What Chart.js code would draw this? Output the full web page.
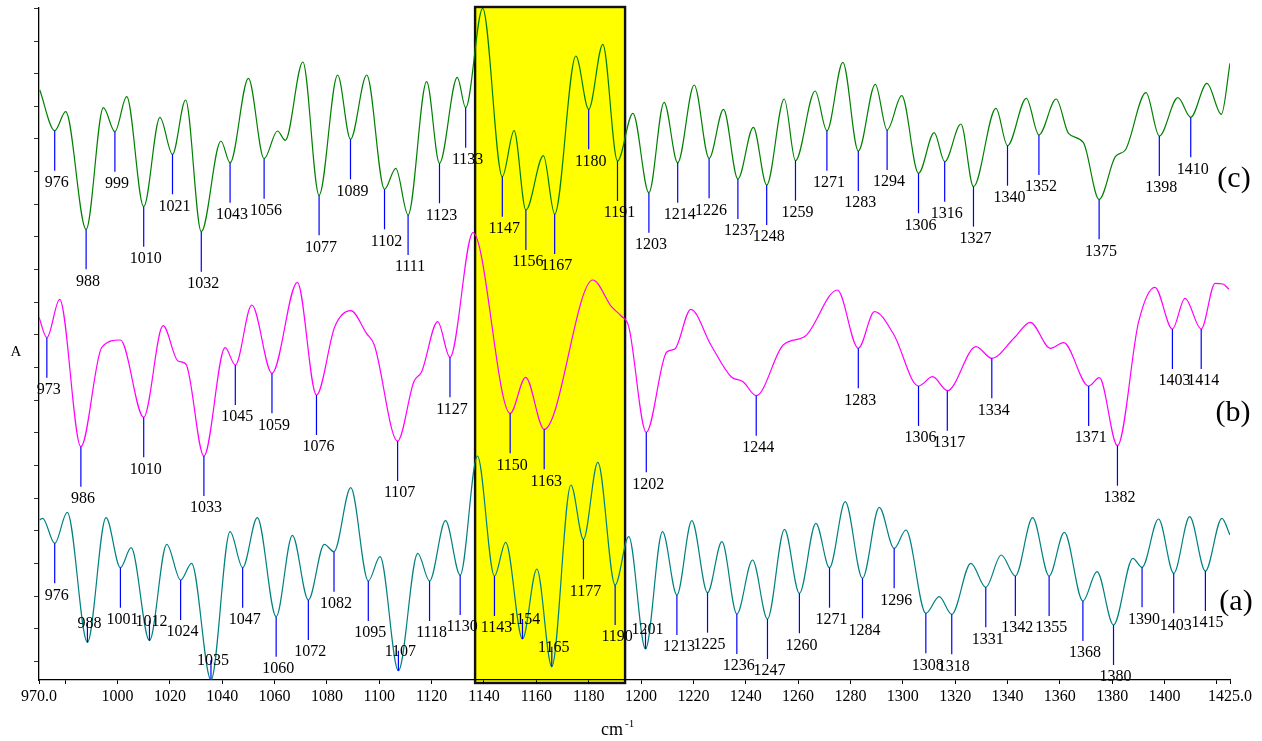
<!DOCTYPE html>
<html>
<head>
<meta charset="utf-8">
<title>IR spectra (a) (b) (c)</title>
<script src="https://cdn.jsdelivr.net/npm/chart.js@4/dist/chart.umd.min.js"></script>
<style>
  html, body { margin: 0; padding: 0; background: #fff; }
  #wrap { width: 1262px; height: 741px; position: relative; }
</style>
</head>
<body>
<div id="wrap"><canvas id="spec"></canvas></div>
<script>
// ============== 数据 (x: cm-1, y: A, arbitrary units) ==============
const xTicks = [970, 980, 1000, 1020, 1040, 1060, 1080, 1100, 1120, 1140, 1160, 1180, 1200,
  1220, 1240, 1260, 1280, 1300, 1320, 1340, 1360, 1380, 1400, 1420, 1425];
const xTickLabels = ['970.0', '', '1000', '1020', '1040', '1060', '1080', '1100', '1120', '1140', '1160', '1180', '1200',
  '1220', '1240', '1260', '1280', '1300', '1320', '1340', '1360', '1380', '1400', '', '1425.0'];
const yTicks = [18.7, 51.3, 84, 116.6, 149.3, 181.9, 214.6, 247.2, 279.9, 312.5, 345.2,
  377.8, 410.5, 443.1, 475.8, 508.4, 541.1, 573.7, 606.4, 639, 671.7];

const highlightRange = [1136.6, 1193.9];

// (c) green
const cWave = [970.3, 976, 980.2, 988, 994.6, 999, 1003.5, 1010, 1016.2, 1021, 1026, 1032, 1039.5, 1043, 1050, 1056,
  1061.1, 1064.1, 1070.8, 1077, 1084.1, 1089, 1095.2, 1102, 1106.3, 1111, 1118.1, 1123, 1129.8, 1133, 1139.5, 1147,
  1151.5, 1156, 1162.7, 1167, 1175.1, 1180, 1185.4, 1191, 1196.9, 1203, 1208.8, 1214, 1220.3, 1226, 1231.5, 1237,
  1242.9, 1248, 1254.7, 1259, 1266.5, 1271, 1277.1, 1283, 1289.5, 1294, 1299.6, 1306, 1312, 1316, 1322.2, 1327,
  1335.6, 1340, 1347.2, 1352, 1358.6, 1363.3, 1369, 1375, 1381.2, 1385, 1392.9, 1398, 1405.1, 1410, 1416.2, 1421.7, 1425];
const cAbs = [590, 549.3, 568.3, 450.7, 572.3, 548.3, 583.3, 473.3, 562.7, 525.7, 580, 448.3, 539, 517.3, 601.7, 521.3,
  549, 539.7, 618, 484.7, 605, 540.7, 605, 490.7, 511.7, 465, 598.3, 516.7, 602.7, 572.3, 671.7, 503.3,
  549.3, 470, 524.3, 466, 624, 570.7, 635.7, 519, 566.7, 487.3, 577.7, 517.3, 595, 521.7, 570.7, 501,
  552.7, 495, 581, 519.3, 589, 549.3, 617.7, 529, 595.7, 550, 584.3, 506.7, 547.3, 518.3, 556, 493.3,
  571.7, 534.3, 581.7, 545, 581, 546.7, 537.3, 480.7, 523.3, 530, 587.3, 544, 582.3, 562.7, 596.7, 565.7, 616.7];
const cPeaks = [976, 988, 999, 1010, 1021, 1032, 1043, 1056, 1077, 1089, 1102, 1111, 1123, 1133, 1147, 1156, 1167,
  1180, 1191, 1203, 1214, 1226, 1237, 1248, 1259, 1271, 1283, 1294, 1306, 1316, 1327, 1340, 1352, 1375, 1398, 1410];

// (b) magenta
const bWave = [970, 973, 977.9, 986, 994, 1001.1, 1010, 1017.4, 1023.1, 1026.1, 1033, 1041.1, 1045, 1051.3, 1059,
  1068.7, 1076, 1083, 1089.1, 1095.1, 1098.1, 1107, 1113.2, 1116.2, 1122.3, 1127, 1135.8, 1150, 1155.9, 1163,
  1181.6, 1188.7, 1192.4, 1195.3, 1202, 1209.8, 1212.9, 1219, 1226.7, 1234.4, 1239, 1244, 1254.3, 1262.8, 1275,
  1283, 1289.2, 1296.5, 1306, 1311.4, 1317, 1328, 1334, 1342.6, 1348.7, 1356.4, 1361.4, 1371, 1375.1, 1382,
  1390.1, 1396.3, 1403, 1407.8, 1414, 1419.3, 1422.3, 1424.6];
const bAbs = [362.7, 342.3, 380.7, 233.3, 332.7, 340, 262.7, 354.3, 319, 316, 224, 332.3, 315, 375, 306.7,
  397.7, 285, 353.3, 369.3, 346.7, 335, 239, 298.3, 308.3, 358.3, 322.7, 447.3, 266.7, 302.7, 250.7,
  400, 373.3, 364, 353.3, 247.7, 328, 331, 370.7, 335, 303.3, 298.3, 284.3, 335, 344, 390,
  331.7, 368.3, 345.7, 294, 303.3, 289.3, 333.3, 321.7, 342.3, 357.7, 331.7, 337.3, 294, 302.3, 234.3,
  358.3, 392.7, 351, 381.7, 351, 396.7, 396, 390.7];
const bPeaks = [973, 986, 1010, 1033, 1045, 1059, 1076, 1107, 1127, 1150, 1163, 1202, 1244, 1283, 1306, 1317,
  1334, 1371, 1382, 1403, 1414];

// (a) teal
const aWave = [970.2, 971.4, 976, 980.8, 988.5, 995.6, 1001.1, 1005.2, 1012.2, 1018.8, 1024.1, 1028.3, 1035.7,
  1043, 1047.8, 1053.4, 1060.6, 1066.8, 1072.9, 1079, 1082.7, 1089.1, 1095.8, 1100.3, 1107.3, 1114.7, 1119.2,
  1125.3, 1130.9, 1137.5, 1144, 1148.3, 1154.7, 1160.2, 1165.9, 1173.2, 1178, 1183.5, 1190.1, 1195.3, 1201.7,
  1208.2, 1213.7, 1219.4, 1225.4, 1230.9, 1236.6, 1242.6, 1248.3, 1254.8, 1260.5, 1266.8, 1272, 1278, 1284.6,
  1291, 1296.7, 1301.2, 1308.8, 1313.9, 1318.7, 1326, 1331.7, 1337.6, 1343, 1349.6, 1355.9, 1361.7, 1368.8,
  1374.2, 1380.5, 1387.9, 1391.4, 1397.7, 1403.5, 1409.6, 1415.6, 1421.9, 1425];
const aAbs = [160, 161.7, 136.7, 167.7, 37.7, 162.3, 112.3, 132.3, 39.3, 135.7, 100, 116.7, 0,
  148.3, 112.3, 162.3, 63.3, 144.7, 80, 135.7, 128.3, 192.3, 99, 123.3, 9.3, 126.7, 99,
  159.3, 105, 224, 104, 137.7, 41, 111, 13.3, 195, 140.7, 217.7, 95, 143.3, 31,
  148.3, 85, 159.3, 87.3, 138.3, 66, 120, 61, 150.7, 86.7, 156.7, 112.3, 178.3, 101.7,
  172.7, 131.7, 150, 66.7, 83.3, 65.7, 116.7, 92.7, 125, 104, 162.3, 104, 147.7, 79,
  108.3, 55, 121.7, 112.7, 161, 106.7, 163.3, 109, 161.7, 145];
const aPeaks = [976, 988, 1001, 1012, 1024, 1035, 1047, 1060, 1072, 1082, 1095, 1107, 1118, 1130, 1143, 1154, 1165,
  1177, 1190, 1201, 1213, 1225, 1236, 1247, 1260, 1271, 1284, 1296, 1308, 1318, 1331, 1342, 1355, 1368, 1380,
  1390, 1403, 1415];

const series = [
  { name: '(c)', wave: cWave, abs: cAbs, peaks: cPeaks, color: '#008000' },
  { name: '(b)', wave: bWave, abs: bAbs, peaks: bPeaks, color: '#ff00ff' },
  { name: '(a)', wave: aWave, abs: aAbs, peaks: aPeaks, color: '#008080' },
];

const serif = '"Liberation Serif", "Times New Roman", serif';

// ============== 插件 ==============
// yellow band, drawn before the axes so the axis line stays on top
const highlightBox = {
  id: 'highlightBox',
  beforeDraw(chart) {
    const { ctx, chartArea, scales: { x } } = chart;
    const l = x.getPixelForValue(highlightRange[0]);
    const r = x.getPixelForValue(highlightRange[1]);
    const t = chartArea.top - 1, b = chartArea.bottom + 3;
    ctx.save();
    ctx.fillStyle = '#ffff00';
    ctx.fillRect(l, t, r - l, b - t);
    ctx.lineWidth = 2.4;
    ctx.strokeStyle = '#111';
    ctx.strokeRect(l, t, r - l, b - t);
    ctx.restore();
  }
};

// blue drop lines + wavenumber labels at each marked minimum
const peakMarks = {
  id: 'peakMarks',
  afterDatasetsDraw(chart) {
    const { ctx, scales: { x, y } } = chart;
    ctx.save();
    ctx.font = '16px ' + serif;
    ctx.textAlign = 'center';
    ctx.textBaseline = 'middle';
    for (const s of series) {
      for (const p of s.peaks) {
        let k = 0;
        s.wave.forEach((w, i) => { if (Math.abs(w - p) < Math.abs(s.wave[k] - p)) k = i; });
        const px = x.getPixelForValue(s.wave[k]);
        const py = y.getPixelForValue(s.abs[k]);
        let y0, y1, ty;
        if (s.abs[k] < 50) { y0 = py - 20; y1 = py; ty = py - 19; }   // too close to the axis: label sits above
        else { y0 = py; y1 = py + 40; ty = py + 52; }
        ctx.strokeStyle = '#0000ff';
        ctx.lineWidth = 1.2;
        ctx.beginPath(); ctx.moveTo(px, y0); ctx.lineTo(px, y1); ctx.stroke();
        ctx.fillStyle = '#000';
        ctx.fillText(String(p), px + 2, ty);
      }
    }
    ctx.restore();
  }
};

// axis titles and trace names
const sideTexts = {
  id: 'sideTexts',
  afterDraw(chart) {
    const { ctx, chartArea } = chart;
    ctx.save();
    ctx.fillStyle = '#000';
    ctx.textAlign = 'center';
    ctx.textBaseline = 'middle';
    ctx.font = '15px ' + serif;
    ctx.fillText('A', 16, 352);

    ctx.textBaseline = 'alphabetic';
    ctx.font = '18px ' + serif;
    ctx.textAlign = 'left';
    ctx.fillText('cm', 601, 735);
    ctx.font = '11px ' + serif;
    ctx.fillText('-1', 625, 727);

    ctx.font = '30px ' + serif;
    ctx.textAlign = 'center';
    ctx.textBaseline = 'middle';
    const rx = chartArea.right + 4;
    ctx.fillText('(c)', rx, 179);
    ctx.fillText('(b)', rx - 1, 413);
    ctx.fillText('(a)', rx + 2, 602);
    ctx.restore();
  }
};

// ============== 图表 ==============
function init() {
  Chart.defaults.font.family = serif;
  Chart.defaults.color = '#000';

  const datasets = series.map(s => ({
    label: s.name,
    data: s.wave.map((w, i) => ({ x: w, y: s.abs[i] })),
    borderColor: s.color,
    borderWidth: 1.2,
    pointRadius: 0,
    fill: false,
    cubicInterpolationMode: 'monotone',
  }));

  new Chart(document.getElementById('spec').getContext('2d'), {
    type: 'line',
    data: { datasets },
    options: {
      responsive: true, maintainAspectRatio: false,
      animation: false, events: [],
      layout: { padding: { top: 8, right: 32, left: 0, bottom: 0 } },
      plugins: { legend: { display: false }, tooltip: { enabled: false } },
      scales: {
        x: {
          type: 'linear', min: 970, max: 1425,
          afterBuildTicks: (sc) => { sc.ticks = xTicks.map(v => ({ value: v })); },
          afterFit: (sc) => { sc.height = 61; },
          ticks: {
            autoSkip: false, maxRotation: 0, padding: 3,
            font: { size: 16 }, color: '#000',
            callback: (v, i) => xTickLabels[i],
          },
          grid: { display: true, drawOnChartArea: false, drawTicks: true, tickLength: 4, color: '#000', lineWidth: 1 },
          border: { display: true, color: '#000', width: 1.3 },
        },
        y: {
          type: 'linear', min: 0, max: 672,
          afterBuildTicks: (sc) => { sc.ticks = yTicks.map(v => ({ value: v })); },
          afterFit: (sc) => { sc.width = 39; },
          ticks: { display: false },
          grid: { display: true, drawOnChartArea: false, drawTicks: true, tickLength: 5, color: '#333', lineWidth: 1 },
          border: { display: true, color: '#000', width: 1.3 },
        },
      },
    },
    plugins: [highlightBox, peakMarks, sideTexts],
  });
}

if (document.readyState === 'loading') document.addEventListener('DOMContentLoaded', init);
else init();
</script>
</body>
</html>
